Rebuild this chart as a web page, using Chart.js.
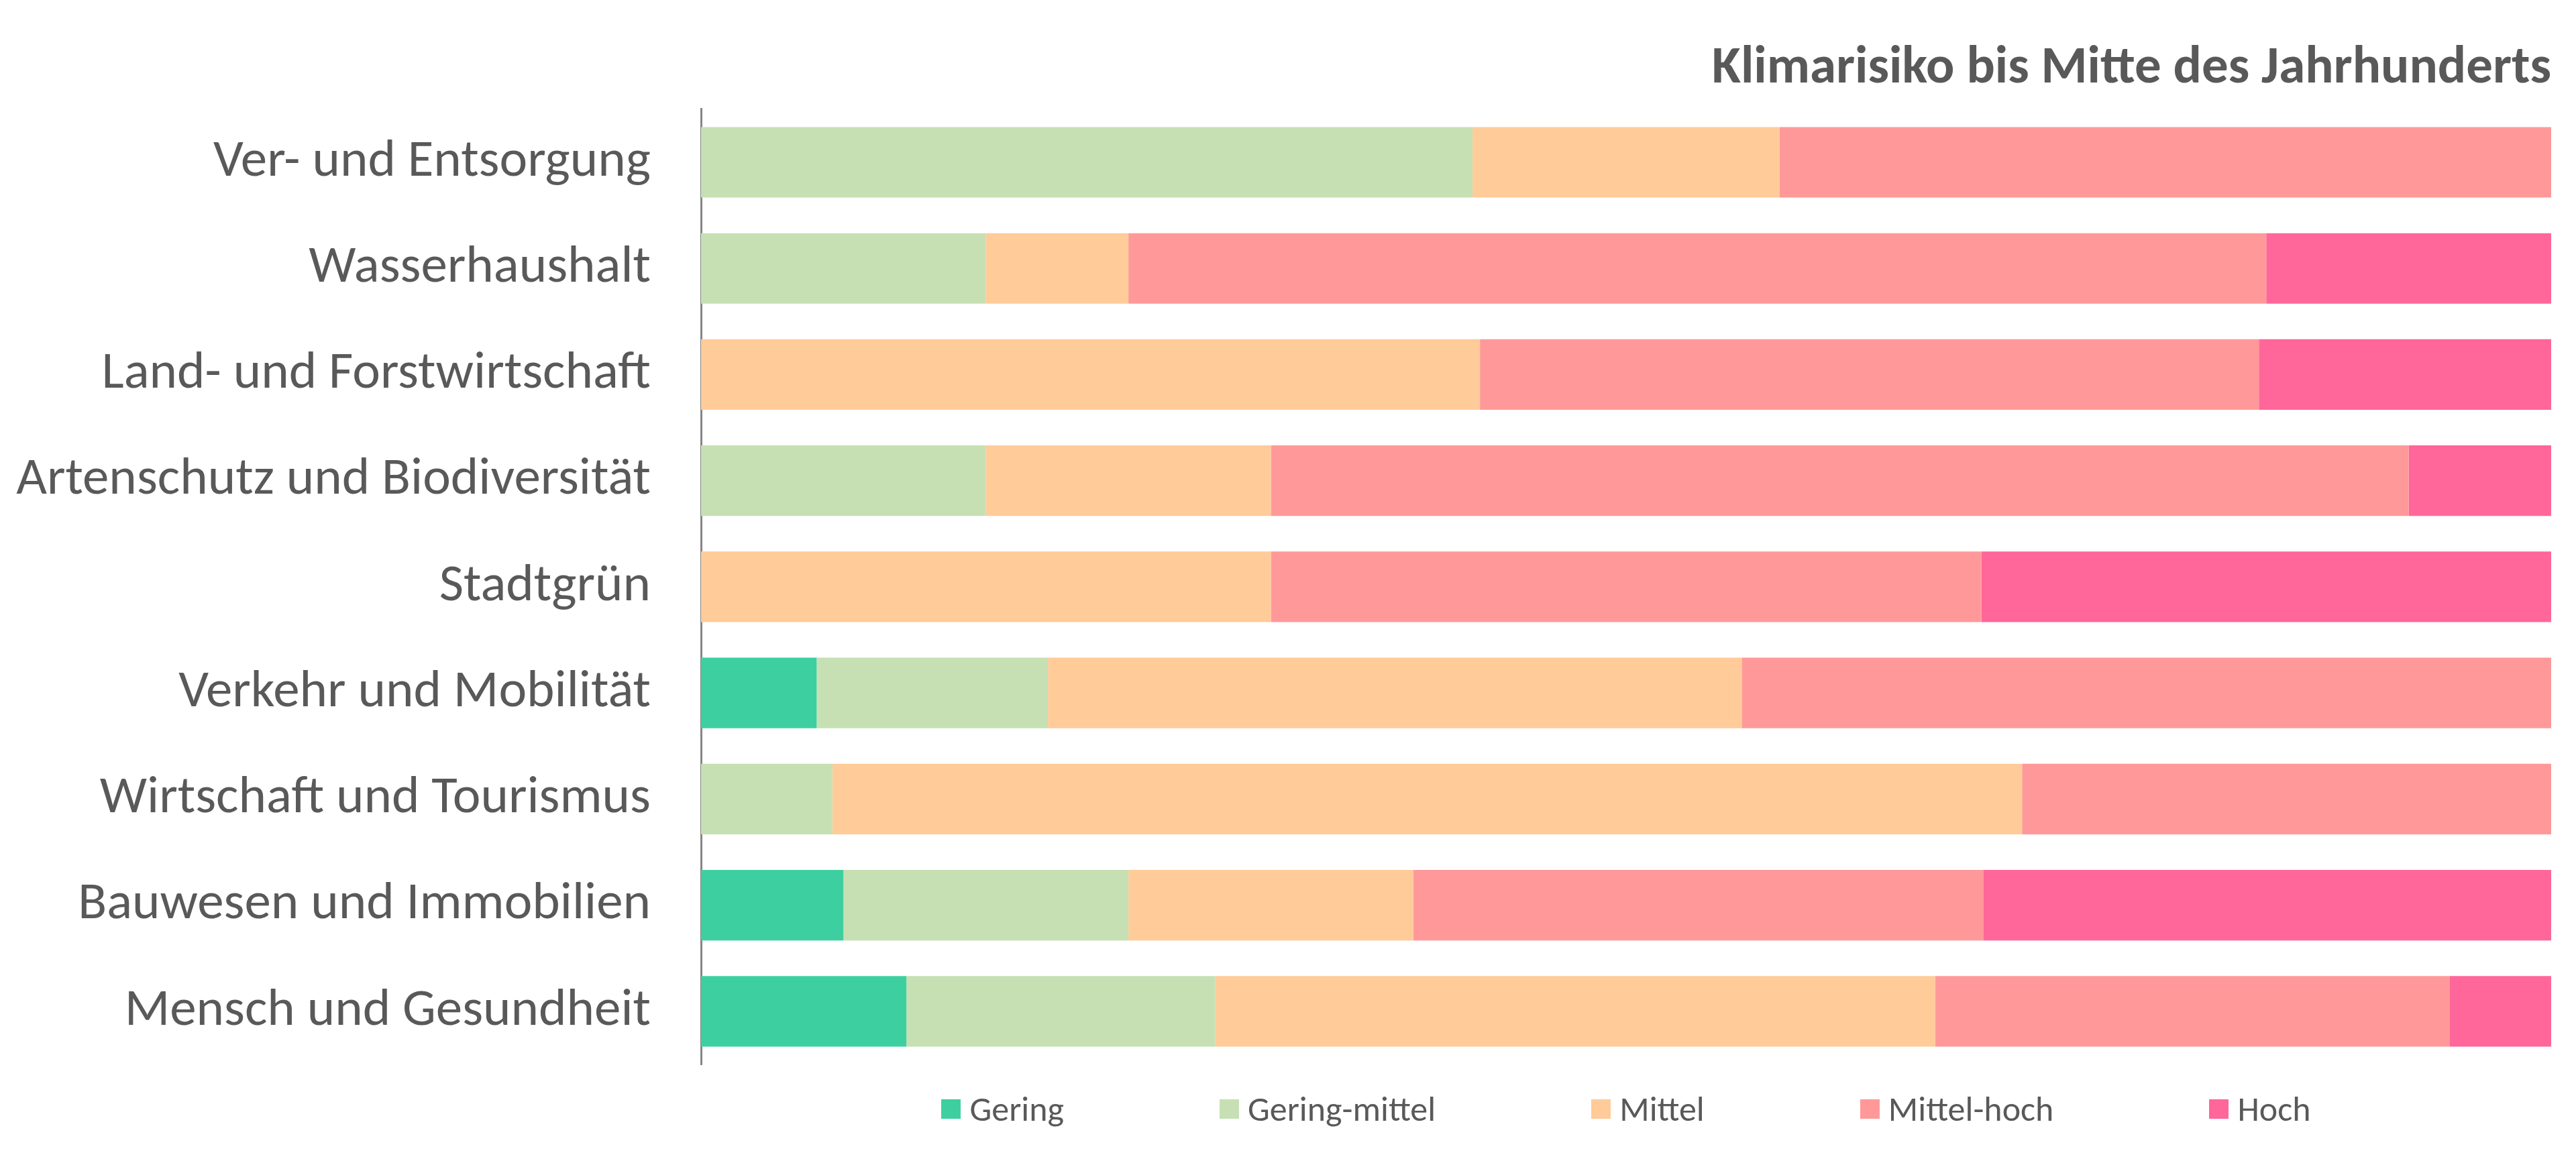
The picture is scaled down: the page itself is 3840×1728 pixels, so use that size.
<!DOCTYPE html>
<html>
<head>
<meta charset="utf-8">
<script src="https://cdn.jsdelivr.net/npm/chart.js@4.4.1/dist/chart.umd.min.js"></script>
<style>
  html, body { margin: 0; padding: 0; background: #fff; }
  #wrap { position: relative; width: 3840px; height: 1728px; }
  #legend { position: absolute; display: flex; justify-content: center; gap: 232px;
            font-family: Carlito, Calibri, sans-serif; font-size: 52px; line-height: 52px; color: #595959; }
  .item { display: flex; align-items: center; white-space: nowrap; }
  .box { width: 29px; height: 29px; margin-right: 13px; }
</style>
</head>
<body>
<div id="wrap">
  <canvas id="myChart" width="3840" height="1728"></canvas>
  <div id="legend"></div>
</div>
<script>
const categories = [
	"Ver- und Entsorgung",
	"Wasserhaushalt",
	"Land- und Forstwirtschaft",
	"Artenschutz und Biodiversität",
	"Stadtgrün",
	"Verkehr und Mobilität",
	"Wirtschaft und Tourismus",
	"Bauwesen und Immobilien",
	"Mensch und Gesundheit"
];

// share of each risk level per field, in percent
const gering       = [0,    0,    0,    0,    0,    6.25,  0,    7.7,  11.1];
const geringMittel = [41.7, 15.4, 0,    15.4, 0,    12.5,  7.1,  15.4, 16.7];
const mittel       = [16.6, 7.7,  42.1, 15.4, 30.8, 37.5,  64.3, 15.4, 38.9];
const mittelHoch   = [41.7, 61.5, 42.1, 61.5, 38.4, 43.75, 28.6, 30.8, 27.8];
const hoch         = [0,    15.4, 15.8, 7.7,  30.8, 0,     0,    30.7, 5.5];

const seriesNames = ["Gering", "Gering-mittel", "Mittel", "Mittel-hoch", "Hoch"];
const seriesValues = [gering, geringMittel, mittel, mittelHoch, hoch];

const COLORS = {
	gering: '#3ECFA0',
	geringMittel: '#C6E0B4',
	mittel: '#FFCB99',
	mittelHoch: '#FF9999',
	hoch: '#FF6699'
};
let colorKeys = Object.keys(COLORS);

const textColor = '#595959';
const fontFamily = "Carlito, Calibri, sans-serif";

const data = {
	labels: categories,
	datasets: []
};

for (let i = 0; i < seriesNames.length; i++) {
	data.datasets.push({
		label: seriesNames[i],
		data: seriesValues[i],
		backgroundColor: COLORS[colorKeys[i]],
		borderWidth: 0,
		barPercentage: 0.664,
		categoryPercentage: 1
	});
}

const config = {
	type: 'bar',
	data: data,
	options: {
		indexAxis: 'y',
		responsive: false,
		animation: false,
		devicePixelRatio: 1,
		layout: {
			padding: { top: 0, right: 37, bottom: 141, left: 0 }
		},
		scales: {
			x: {
				stacked: true,
				min: 0,
				max: 100,
				display: false
			},
			y: {
				stacked: true,
				grid: { display: false, drawTicks: false },
				border: { display: true, color: '#868686', width: 3 },
				ticks: {
					color: textColor,
					padding: 75,
					font: { family: fontFamily, size: 79 }
				},
				afterFit: function(scale) {
					scale.width = 1045;
				}
			}
		},
		plugins: {
			legend: { display: false },
			tooltip: { enabled: false },
			title: {
				display: true,
				text: 'Klimarisiko bis Mitte des Jahrhunderts',
				align: 'end',
				color: textColor,
				font: { family: fontFamily, size: 79, weight: 'bold' },
				padding: { top: 56, bottom: 12 }
			}
		}
	}
};

const myChart = new Chart(document.getElementById('myChart'), config);

// legend as html below the plot, centred on the chart area
function buildLegend(chart) {
	let el = document.getElementById('legend');
	let area = chart.chartArea;
	el.style.left = area.left + 'px';
	el.style.width = (area.right - area.left) + 'px';
	el.style.top = '1627px';
	chart.data.datasets.forEach(ds => {
		let item = document.createElement('div');
		item.className = 'item';
		let box = document.createElement('span');
		box.className = 'box';
		box.style.background = ds.backgroundColor;
		let txt = document.createElement('span');
		txt.textContent = ds.label;
		item.appendChild(box);
		item.appendChild(txt);
		el.appendChild(item);
	});
}
buildLegend(myChart);
</script>
</body>
</html>
